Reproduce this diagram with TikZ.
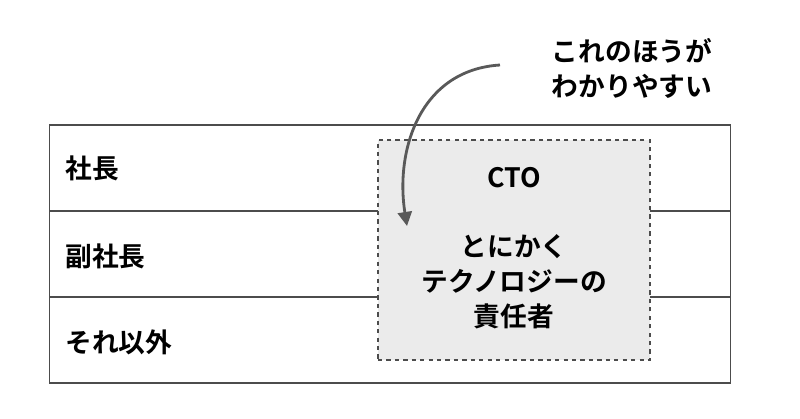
\documentclass[tikz,border=0pt]{standalone}
\usepackage{fontspec}
\setmainfont{Noto Sans CJK JP Bold}
\usetikzlibrary{arrows.meta,positioning,fit}
\begin{document}
\begin{tikzpicture}[x=0.025cm,y=-0.025cm,
  font=\fontsize{19pt}{25pt}\selectfont,
  row/.style={draw=black!70, line width=0.8pt, minimum width=17cm, minimum height=2.15cm, inner sep=0pt},
  rowlabel/.style={anchor=west, inner sep=0pt},
  role/.style={draw=black!70, dashed, line width=1pt, fill=black!8, minimum width=6.8cm, minimum height=5.5cm, inner sep=0pt},
  note/.style={align=center, inner sep=0pt},
  arrow/.style={-{Triangle[length=10pt,width=10pt]}, line width=2pt, draw=black!65}
]
\useasboundingbox (0,0) rectangle (800,419);

% Rows
\node[row] (r1) at (390,168) {};
\node[row] (r2) at (390,254) {};
\node[row] (r3) at (390,340) {};
\node[rowlabel] (l1) at (65,168) {社長};
\node[rowlabel] (l2) at (65,256) {副社長};
\node[rowlabel] (l3) at (65,342) {それ以外};

% Role box
\node[role] (cto) at (514,250) {};
\node[note] (ctoname) at (514,178) {CTO};
\node[note] (ctotext) at (514,282) {とにかく\\テクノロジーの\\責任者};

% Note
\node[note] (note) at (632,68) {これのほうが\\わかりやすい};
\coordinate (from) at (500,65);
\coordinate (to) at (407,226);
\draw[arrow] (from) .. controls (420,70) and (395,150) .. (to);

\end{tikzpicture}
\end{document}
